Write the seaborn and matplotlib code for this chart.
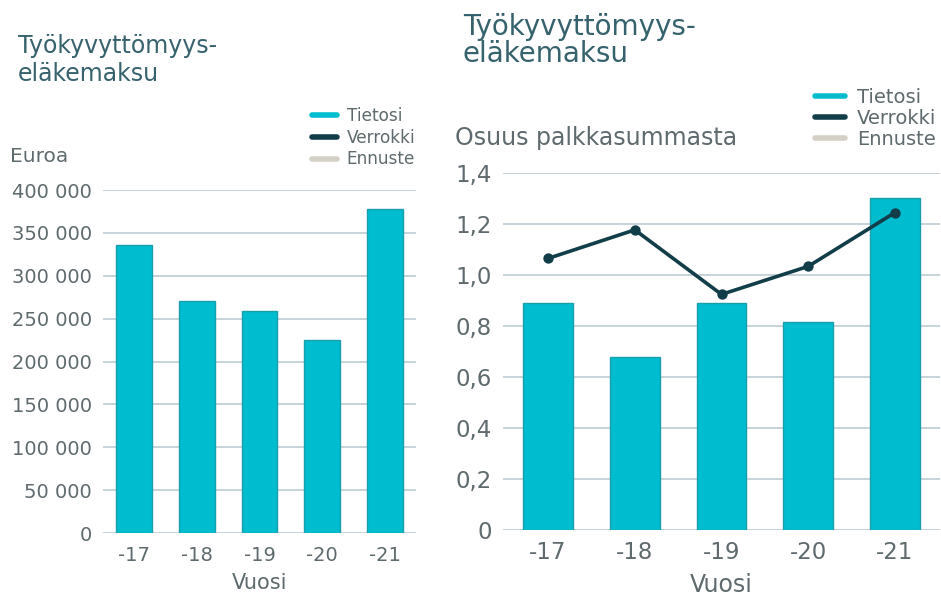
import numpy as np
import pandas as pd
import matplotlib
matplotlib.use("Agg")
import matplotlib.pyplot as plt
from matplotlib.lines import Line2D
from matplotlib.ticker import FuncFormatter
import seaborn as sns

# Data
years = ["-17", "-18", "-19", "-20", "-21"]
maksu_euroa = [336000, 271000, 259000, 225000, 378000]
osuus_tietosi = [0.892, 0.680, 0.892, 0.814, 1.302]
osuus_verrokki = [1.065, 1.177, 0.924, 1.034, 1.245]
legend_labels = ["Tietosi", "Verrokki", "Ennuste"]

bar_color = "#00BCCF"
bar_edge = "#1B9EAB"
line_color = "#123E4A"
forecast_color = "#D4D0C6"
grid_color = "#BCCDD3"
text_color = "#5E6A6D"
title_color = "#35626C"

sns.set_style("white")
plt.rcParams['font.family'] = ['DejaVu Sans']

fig = plt.figure(figsize=(9.41, 5.96), dpi=100)
ax1 = fig.add_axes([0.1095, 0.1057, 0.3325, 0.5753])
ax2 = fig.add_axes([0.5345, 0.1107, 0.4645, 0.599])

df1 = pd.DataFrame({"Vuosi": years, "Euroa": maksu_euroa})
df2 = pd.DataFrame({"Vuosi": years, "Tietosi": osuus_tietosi, "Verrokki": osuus_verrokki})


def style_axis(ax, ymax, step, fsize, fmt, pad_y, pad_x):
    ax.set_ylim(0, ymax)
    ax.set_yticks(np.arange(0, ymax + step / 2, step))
    ax.yaxis.set_major_formatter(FuncFormatter(fmt))
    ax.grid(axis="y", color=grid_color, linewidth=1.2)
    ax.set_axisbelow(True)
    for s in ax.spines.values():
        s.set_visible(False)
    ax.tick_params(axis="both", length=0, labelsize=fsize, colors=text_color)
    ax.tick_params(axis="y", pad=pad_y)
    ax.tick_params(axis="x", pad=pad_x)


# vasen kuva: euroa
sns.barplot(data=df1, x="Vuosi", y="Euroa", ax=ax1, color=bar_color,
            edgecolor=bar_edge, linewidth=1, width=0.57, saturation=1)
ax1.set_xlim(-0.49, 4.49)
style_axis(ax1, 400000, 50000, 14, lambda v, p: f"{int(v):,}".replace(",", " "), 8, 9)
ax1.set_ylabel("")
ax1.set_xlabel("Vuosi", fontsize=15, color=text_color, labelpad=6)

# oikea kuva: osuus palkkasummasta
sns.barplot(data=df2, x="Vuosi", y="Tietosi", ax=ax2, color=bar_color,
            edgecolor=bar_edge, linewidth=1, width=0.576, saturation=1)
sns.pointplot(data=df2, x="Vuosi", y="Verrokki", ax=ax2, color=line_color,
              markers="o", markersize=5.5, linewidth=2.6)
ax2.set_xlim(-0.52, 4.52)
style_axis(ax2, 1.4, 0.2, 16.5,
           lambda v, p: "0" if abs(v) < 1e-9 else f"{v:.1f}".replace(".", ","), 8, 8)
ax2.set_ylabel("")
ax2.set_xlabel("Vuosi", fontsize=17, color=text_color, labelpad=6.5)

# otsikot
fig.text(18 / 941, 1 - 53 / 596, "Työkyvyttömyys-", fontsize=17,
         color=title_color, va="baseline", ha="left")
fig.text(18 / 941, 1 - 81 / 596, "eläkemaksu", fontsize=17,
         color=title_color, va="baseline", ha="left")
fig.text(463 / 941, 1 - 35 / 596, "Työkyvyttömyys-", fontsize=20,
         color=title_color, va="baseline", ha="left")
fig.text(463 / 941, 1 - 62 / 596, "eläkemaksu", fontsize=20,
         color=title_color, va="baseline", ha="left")
fig.text(10 / 941, 1 - 162 / 596, "Euroa", fontsize=14.5, color=text_color,
         va="baseline", ha="left")
fig.text(455 / 941, 1 - 145 / 596, "Osuus palkkasummasta", fontsize=17,
         color=text_color, va="baseline", ha="left")

# selitteet
handles = [Line2D([], [], color=c, linewidth=4)
           for c in [bar_color, line_color, forecast_color]]
leg1 = fig.legend(handles, legend_labels, loc="upper left",
                  bbox_to_anchor=(312 / 941, 1 - 107 / 596), frameon=False,
                  fontsize=12.2, labelcolor=text_color, handlelength=1.5,
                  handletextpad=0.55, labelspacing=0.22, borderpad=0,
                  borderaxespad=0)
leg2 = fig.legend(handles, legend_labels, loc="upper left",
                  bbox_to_anchor=(815 / 941, 1 - 88 / 596), frameon=False,
                  fontsize=14, labelcolor=text_color, handlelength=1.55,
                  handletextpad=0.6, labelspacing=0.1, borderpad=0,
                  borderaxespad=0)

fig.savefig("out.png", dpi=100)
